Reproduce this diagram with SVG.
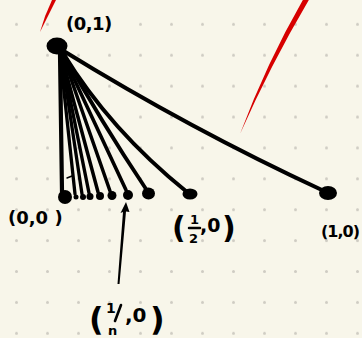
<svg xmlns="http://www.w3.org/2000/svg" width="362" height="338" viewBox="0 0 362 338">
<defs>
<pattern id="grid" patternUnits="userSpaceOnUse" x="1" y="8.85" width="31" height="30.9">
<circle cx="15.5" cy="15.45" r="1.5" fill="#cfccc3"/>
</pattern>
</defs>
<style>
.edge{fill:none;stroke:#000;stroke-linecap:round;stroke-linejoin:round}
.pt{fill:#000}
.lbl{font-family:"DejaVu Sans","Liberation Sans",sans-serif;font-weight:bold;fill:#000}
.par{font-family:"DejaVu Sans","Liberation Sans",sans-serif;font-weight:bold;fill:#000}
.red{fill:#d70000}
</style>
<rect width="362" height="338" fill="#f8f6ea"/>
<rect width="362" height="338" fill="url(#grid)"/>
<g id="red-strokes">
<path class="red" d="M53,-2 L57,-2 Q48,16 40,32 Q45,14 53,-2 Z"/>
<path class="red" d="M304,-2 L310,-2 Q271,64 240,134 Q267,62 304,-2 Z"/>
</g>
<g id="connectors">
<path class="edge" stroke-width="4.2" d="M60,54 L62,192"/>
<path class="edge" stroke-width="3.3" d="M60,54 L75,194"/>
<path class="edge" stroke-width="3.3" d="M61,54 L82,194"/>
<path class="edge" stroke-width="3.4" d="M61,54 L89,193"/>
<path class="edge" stroke-width="3.5" d="M61,54 L98,192"/>
<path class="edge" stroke-width="3.5" d="M62,53 L110,191"/>
<path class="edge" stroke-width="3.6" d="M62,53 L126,190"/>
<path class="edge" stroke-width="3.8" d="M63,53 Q100,120 146,189"/>
<path class="edge" stroke-width="4" d="M63,53 Q110,130 187,192"/>
<path class="edge" stroke-width="4" d="M62,50 Q190,129 324,191"/>
<path class="edge" stroke-width="1.5" d="M67,178 L72,176"/>
<path class="pt" d="M117.5,284 L123,212 L120.5,213 L126,202 L129.5,212 L126,211.5 L119.5,284 Z"/>
</g>
<g id="n01">
<ellipse class="pt" cx="57" cy="46" rx="10.5" ry="8.5"/>
<text class="lbl" x="66" y="30" font-size="18" letter-spacing="-0.5">(0,1)</text>
</g>
<g id="n00">
<circle class="pt" cx="65" cy="197" r="7"/>
<text class="lbl" x="8" y="224" font-size="18">(0,0 )</text>
</g>
<g id="seq">
<circle class="pt" cx="76" cy="197" r="2.5"/>
<circle class="pt" cx="83" cy="197" r="3"/>
<circle class="pt" cx="90" cy="196.5" r="3.5"/>
<circle class="pt" cx="100" cy="196" r="4"/>
<circle class="pt" cx="112" cy="195.5" r="4.5"/>
<circle class="pt" cx="128" cy="195" r="5"/>
<ellipse class="pt" cx="148.5" cy="193.5" rx="6.5" ry="6"/>
</g>
<g id="n1n">
<text class="par" x="89" y="330" font-size="32">(</text>
<text class="lbl" x="106" y="313" font-size="14">1</text>
<path class="edge" stroke-width="2.6" d="M121,305 L115,321"/>
<text class="lbl" x="108" y="335" font-size="13">n</text>
<text class="lbl" x="125" y="322" font-size="20">,0</text>
<text class="par" x="150" y="330" font-size="32">)</text>
</g>
<g id="nhalf">
<ellipse class="pt" cx="190" cy="194" rx="7.5" ry="5.5"/>
<text class="par" x="172" y="238" font-size="30">(</text>
<text class="lbl" x="190" y="224" font-size="13">1</text>
<path class="edge" stroke-width="2.5" d="M189,228 L200,228"/>
<text class="lbl" x="189" y="243" font-size="13">2</text>
<text class="lbl" x="200" y="232" font-size="19">,0</text>
<text class="par" x="222" y="238" font-size="30">)</text>
</g>
<g id="n10">
<ellipse class="pt" cx="328" cy="193" rx="9" ry="7"/>
<text class="lbl" x="321" y="237" font-size="16" letter-spacing="-1">(1,0)</text>
</g>
</svg>
